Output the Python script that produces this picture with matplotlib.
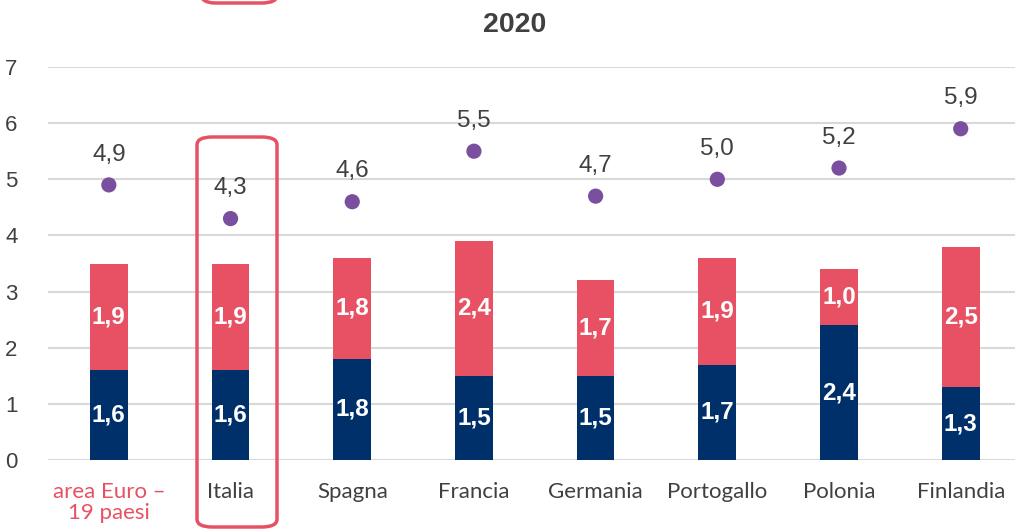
import matplotlib
matplotlib.use('Agg')
import matplotlib.pyplot as plt
from matplotlib.patches import FancyBboxPatch
import numpy as np

# data
paesi = ['area Euro –\n19 paesi', 'Italia', 'Spagna', 'Francia', 'Germania',
         'Portogallo', 'Polonia', 'Finlandia']
base = [1.6, 1.6, 1.8, 1.5, 1.5, 1.7, 2.4, 1.3]
extra = [1.9, 1.9, 1.8, 2.4, 1.7, 1.9, 1.0, 2.5]
totale = [4.9, 4.3, 4.6, 5.5, 4.7, 5.0, 5.2, 5.9]
yticks = [0, 1, 2, 3, 4, 5, 6, 7]

navy = '#00306A'
red = '#E85164'
purple = '#7A4F9F'
grey = '#404040'

def virgola(v):
    return f'{v:.1f}'.replace('.', ',')

fig = plt.figure(figsize=(10.15, 5.31), dpi=100)
ax = fig.add_axes([48/1015, 1-460/531, 967/1015, (460-67)/531])

x = np.arange(len(paesi))
w = 0.31
ax.bar(x, base, w, color=navy, zorder=2)
ax.bar(x, extra, w, bottom=base, color=red, zorder=2)
ax.scatter(x, totale, s=120, color=purple, zorder=3, edgecolors='none')

for i in range(len(paesi)):
    ax.text(x[i], base[i]/2, virgola(base[i]), ha='center', va='center',
            color='white', fontsize=17.5, fontweight='bold', family='Liberation Sans')
    ax.text(x[i], base[i] + extra[i]/2, virgola(extra[i]), ha='center', va='center',
            color='white', fontsize=17.5, fontweight='bold', family='Liberation Sans')
    ax.text(x[i], totale[i] + 0.54, virgola(totale[i]), ha='center', va='center',
            color=grey, fontsize=17.5, family='Liberation Sans')

ax.set_xlim(-0.5, 7.446)
ax.set_ylim(0, 7)
ax.set_yticks(yticks)
ax.set_yticklabels([str(t) for t in yticks], family='Liberation Sans', fontsize=16, color=grey)
ax.set_xticks(x)
ax.set_xticklabels(paesi, family='Lato', fontsize=16, color=grey, linespacing=1.05)
ax.get_xticklabels()[0].set_color(red)
ax.tick_params(axis='x', length=0, pad=16)
ax.tick_params(axis='y', length=0, pad=22)
ax.grid(axis='y', color='#D9D9D9', lw=1.5, zorder=0)
for s in ax.spines.values():
    s.set_visible(False)

fig.text(515/1015, 1-25/531, '2020', ha='center', va='center', fontsize=20.5,
         fontweight='bold', color=grey, family='Liberation Sans')

# riquadro Italia
box = FancyBboxPatch((197/1015, 1-527/531), 80/1015, 390/531,
                     boxstyle='round,pad=0,rounding_size=0.015', transform=fig.transFigure,
                     fill=False, edgecolor=red, lw=2.5, clip_on=False)
fig.patches.append(box)
top = FancyBboxPatch((200/1015, 1-3/531), 77/1015, 20/531,
                     boxstyle='round,pad=0,rounding_size=0.015', transform=fig.transFigure,
                     fill=False, edgecolor=red, lw=2.5, clip_on=False)
fig.patches.append(top)

fig.savefig('out.png', dpi=100)
